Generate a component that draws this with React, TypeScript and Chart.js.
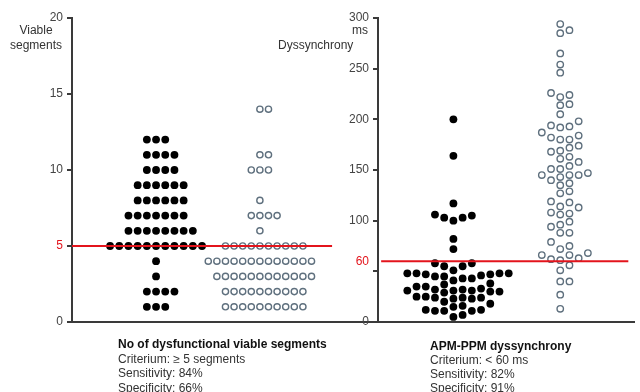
import React, { useEffect, useRef } from "react";
import { Chart, registerables } from "chart.js";

Chart.register(...registerables);

// Number of dysfunctional viable segments per patient
const segmentsResponders = [
  12, 12, 12,
  11, 11, 11, 11,
  10, 10, 10, 10,
  9, 9, 9, 9, 9, 9,
  8, 8, 8, 8, 8, 8,
  7, 7, 7, 7, 7, 7, 7,
  6, 6, 6, 6, 6, 6, 6, 6,
  5, 5, 5, 5, 5, 5, 5, 5, 5, 5, 5,
  4, 3,
  2, 2, 2, 2,
  1, 1, 1,
];
const segmentsNonResponders = [
  14, 14,
  11, 11,
  10, 10, 10,
  8,
  7, 7, 7, 7,
  6,
  5, 5, 5, 5, 5, 5, 5, 5, 5, 5,
  4, 4, 4, 4, 4, 4, 4, 4, 4, 4, 4, 4, 4,
  3, 3, 3, 3, 3, 3, 3, 3, 3, 3, 3, 3,
  2, 2, 2, 2, 2, 2, 2, 2, 2, 2,
  1, 1, 1, 1, 1, 1, 1, 1, 1, 1,
];
const segmentsCutoff = 5;
const segmentsTicks = [0, 5, 10, 15, 20];

// APM-PPM dyssynchrony (ms) per patient
const dyssyncResponders = [
  200, 164, 117, 106, 105, 103, 103, 100, 82, 72,
  58, 58, 55, 55, 51,
  48, 48, 48, 48, 47, 47, 46, 45, 45, 43, 43, 41, 38,
  37, 35, 35, 33, 32, 32, 31, 31, 31, 30, 30, 29,
  25, 25, 24, 24, 24, 23, 23, 20, 18,
  16, 15, 12, 12, 11, 11, 11, 7, 5,
];
const dyssyncNonResponders = [
  294, 288, 285, 265, 254, 246, 226, 224, 222, 215,
  214, 205, 198, 194, 193, 192, 187, 184, 182, 180,
  180, 174, 172, 169, 168, 163, 161, 158, 154, 151,
  151, 147, 145, 145, 145, 143, 140, 137, 135, 129,
  127, 119, 118, 114, 113, 108, 107, 106, 99, 96,
  94, 88, 88, 79, 75, 72, 68, 66, 66, 63,
  62, 61, 56, 51, 40, 40, 27, 13,
];
const dyssyncCutoff = 60;
const dyssyncTicks = [0, 50, 60, 100, 150, 200, 250, 300];

const FONT = '"Liberation Sans", Arial, Helvetica, sans-serif';
const AXIS = "#3a3a3a";
const LABEL = "#444";
const RED = "#e3141c";
const OPEN = "#5f707e";

// Column beeswarm: dots sit in discrete horizontal slots (0, +1, -1, +2, ...)
// and a slot is taken only if no dot in it is vertically closer than minGap px.
function swarmSlots(values: number[], pxPerValue: number, minGap: number): number[] {
  const order = values.map((_, i) => i).sort((a, b) => values[a] - values[b]);
  const placed: { slot: number; y: number }[] = [];
  const slots = new Array(values.length).fill(0);
  for (const i of order) {
    const y = values[i] * pxPerValue;
    for (let k = 0; k < 200; k++) {
      const s = k === 0 ? 0 : k % 2 === 1 ? (k + 1) / 2 : -k / 2;
      if (!placed.some((p) => p.slot === s && Math.abs(p.y - y) < minGap)) {
        slots[i] = s;
        placed.push({ slot: s, y });
        break;
      }
    }
  }
  return slots;
}

function swarmPoints(values: number[], center: number, step: number, pxPerValue: number, minGap: number) {
  const slots = swarmSlots(values, pxPerValue, minGap);
  return values.map((v, i) => ({ x: center + slots[i] * step, y: v }));
}

type PanelSpec = {
  width: number;
  axisWidth: number;
  padRight: number;
  xMin: number;
  xMax: number;
  yMax: number;
  ticks: number[];
  hiddenLabels: number[];
  hiddenTickMarks: number[];
  cutoff: number;
  cutoffFrom: number;
  cutoffTo: number;
  filled: { x: number; y: number }[];
  open: { x: number; y: number }[];
  filledRadius: number;
  openRadius: number;
};

function buildConfig(p: PanelSpec): any {
  return {
    type: "scatter",
    data: {
      datasets: [
        {
          type: "line",
          data: [
            { x: p.cutoffFrom, y: p.cutoff },
            { x: p.cutoffTo, y: p.cutoff },
          ],
          borderColor: RED,
          borderWidth: 2,
          pointRadius: 0,
          order: 0,
        },
        {
          data: p.filled,
          backgroundColor: "#000",
          borderWidth: 0,
          pointRadius: p.filledRadius,
          order: 1,
        },
        {
          data: p.open,
          backgroundColor: "#fff",
          borderColor: OPEN,
          borderWidth: 1.4,
          pointRadius: p.openRadius,
          order: 1,
        },
      ],
    },
    options: {
      animation: false,
      responsive: false,
      events: [],
      layout: { padding: { left: 0, right: p.padRight, top: 18, bottom: 70 } },
      plugins: { legend: { display: false }, tooltip: { enabled: false } },
      scales: {
        x: {
          type: "linear",
          min: p.xMin,
          max: p.xMax,
          ticks: { display: false },
          grid: { display: false, drawTicks: false },
          border: { display: true, color: AXIS, width: 2 },
          afterFit: (s: any) => {
            s.height = 0;
          },
        },
        y: {
          type: "linear",
          min: 0,
          max: p.yMax,
          afterBuildTicks: (s: any) => {
            s.ticks = p.ticks.map((v) => ({ value: v }));
          },
          ticks: {
            padding: 4,
            font: { family: FONT, size: 12 },
            color: (ctx: any) => (ctx.tick && ctx.tick.value === p.cutoff ? RED : LABEL),
            callback: (v: any) => (p.hiddenLabels.includes(v) ? "" : String(v)),
          },
          grid: {
            drawOnChartArea: false,
            drawTicks: true,
            tickLength: 5,
            lineWidth: 2,
            color: (ctx: any) =>
              ctx.tick && p.hiddenTickMarks.includes(ctx.tick.value) ? "rgba(0,0,0,0)" : AXIS,
          },
          border: { display: true, color: AXIS, width: 2 },
          afterFit: (s: any) => {
            s.width = p.axisWidth;
          },
        },
      },
    },
  };
}

// Left panel: plot from x=72 to 378 px, 100 px per x unit
const leftSpec: PanelSpec = {
  width: 380,
  axisWidth: 72,
  padRight: 2,
  xMin: 0.12,
  xMax: 3.18,
  yMax: 20,
  ticks: segmentsTicks,
  hiddenLabels: [],
  hiddenTickMarks: [],
  cutoff: segmentsCutoff,
  cutoffFrom: 0.12,
  cutoffTo: 2.75,
  filled: swarmPoints(segmentsResponders, 0.97, 0.093, 15.2, 9),
  open: swarmPoints(segmentsNonResponders, 2.02, 0.087, 15.2, 9),
  filledRadius: 3.9,
  openRadius: 3.1,
};

// Right panel: plot from x=378 to 640 px, ~107 px per x unit
const rightSpec: PanelSpec = {
  width: 300,
  axisWidth: 38,
  padRight: 0,
  xMin: 0.28,
  xMax: 2.73,
  yMax: 300,
  ticks: dyssyncTicks,
  hiddenLabels: [50],
  hiddenTickMarks: [60],
  cutoff: dyssyncCutoff,
  cutoffFrom: 0.31,
  cutoffTo: 2.67,
  filled: swarmPoints(dyssyncResponders, 1, 0.088, 1.0133, 8),
  open: swarmPoints(dyssyncNonResponders, 2.02, 0.088, 1.0133, 8),
  filledRadius: 3.9,
  openRadius: 3.2,
};

function Panel({ spec, left }: { spec: PanelSpec; left: number }) {
  const ref = useRef<HTMLCanvasElement | null>(null);
  useEffect(() => {
    if (!ref.current) return;
    const chart = new Chart(ref.current, buildConfig(spec));
    return () => chart.destroy();
  }, [spec]);
  return (
    <canvas
      ref={ref}
      width={spec.width}
      height={392}
      style={{ position: "absolute", left, top: 0, width: spec.width, height: 392 }}
    />
  );
}

const txt: React.CSSProperties = {
  position: "absolute",
  whiteSpace: "nowrap",
  fontFamily: FONT,
  fontSize: 12,
  color: "#333",
  lineHeight: "15px",
};

export default function App() {
  return (
    <div
      style={{
        position: "absolute",
        left: 0,
        top: 0,
        width: 640,
        height: 392,
        overflow: "hidden",
        background: "#fff",
      }}
    >
      <Panel spec={leftSpec} left={0} />
      <Panel spec={rightSpec} left={340} />

      <div style={{ ...txt, left: 0, top: 23, width: 72, textAlign: "center" }}>
        Viable
        <br />
        segments
      </div>
      <div style={{ ...txt, left: 352, top: 23 }}>ms</div>
      <div style={{ ...txt, left: 278, top: 38 }}>Dyssynchrony</div>

      <div style={{ ...txt, left: 118, top: 337, lineHeight: "14.5px" }}>
        <div style={{ fontWeight: "bold", color: "#111", fontSize: 12 }}>No of dysfunctional viable segments</div>
        <div>Criterium: ≥ 5 segments</div>
        <div>Sensitivity: 84%</div>
        <div>Specificity: 66%</div>
      </div>
      <div style={{ ...txt, left: 430, top: 338.5, lineHeight: "14px" }}>
        <div style={{ fontWeight: "bold", color: "#111", fontSize: 12 }}>APM-PPM dyssynchrony</div>
        <div>Criterium: &lt; 60 ms</div>
        <div>Sensitivity: 82%</div>
        <div>Specificity: 91%</div>
      </div>
    </div>
  );
}
